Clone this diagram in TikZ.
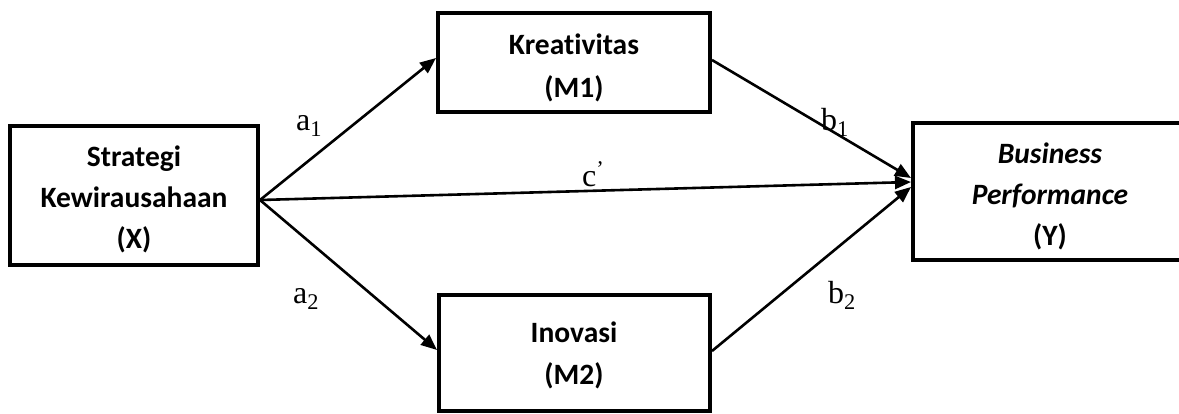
\documentclass[tikz,border=0pt]{standalone}
\usepackage{fontspec}
\setmainfont{Liberation Serif}
\newfontfamily\boxfont[Ligatures=NoCommon]{Carlito}
\usetikzlibrary{arrows.meta}
\begin{document}
\begin{tikzpicture}[x=1pt,y=-1pt,
  boxshape/.style={draw, line width=4pt, rectangle, inner sep=0pt},
  boxtext/.style={inner sep=0pt, align=center, font=\boxfont\bfseries\fontsize{29.5}{41}\selectfont},
  conn/.style={line width=2.6pt, -{Triangle[length=16pt,width=13pt]}},
  lbl/.style={inner sep=0pt, anchor=base west, font=\fontsize{32}{36}\selectfont}]
\useasboundingbox (0,0) rectangle (1179,413);
\clip (0,0) rectangle (1179,413);
% boxes
\node[boxshape, minimum width=248pt, minimum height=139pt] (X) at (134,195.5) {};
\node[boxshape, minimum width=272pt, minimum height=99pt] (M1) at (574,62.5) {};
\node[boxshape, minimum width=271pt, minimum height=116pt] (M2) at (574.5,353) {};
\node[boxshape, minimum width=300pt, minimum height=137pt] (Y) at (1063,191.5) {};
% texts
\node[boxtext] (Xt) at (134,199) {Strategi\\Kewirausahaan\\(X)};
\node[boxtext, font=\boxfont\bfseries\fontsize{29.5}{43}\selectfont] (M1t) at (574,68) {Kreativitas\\(M1)};
\node[boxtext, font=\boxfont\bfseries\fontsize{29.5}{42}\selectfont] (M2t) at (574,355) {Inovasi\\(M2)};
\node[boxtext] (Yt) at (1050,196) {\textit{Business}\\\textit{Performance}\\(Y)};
% connectors
\draw[conn] ([yshift=-4.5pt]X.east) -- ([yshift=4.5pt]M1.west);
\draw[conn] ([yshift=-4.5pt]X.east) -- ([yshift=3pt]M2.west);
\draw[conn] ([yshift=-4.5pt]X.east) -- ([yshift=9.5pt]Y.west);
\draw[conn] ([yshift=2.5pt]M1.east) -- ([yshift=13.5pt]Y.west);
\draw[conn] ([yshift=2pt]M2.east) -- ([yshift=4.5pt]Y.west);
% labels
\node[lbl] (la1) at (296,130) {a\textsubscript{1}};
\node[lbl] (lb1) at (821,130) {b\textsubscript{1}};
\node[lbl] (lc) at (582,186) {c\textsuperscript{’}};
\node[lbl] (la2) at (293,303) {a\textsubscript{2}};
\node[lbl] (lb2) at (828,303) {b\textsubscript{2}};
\end{tikzpicture}
\end{document}
